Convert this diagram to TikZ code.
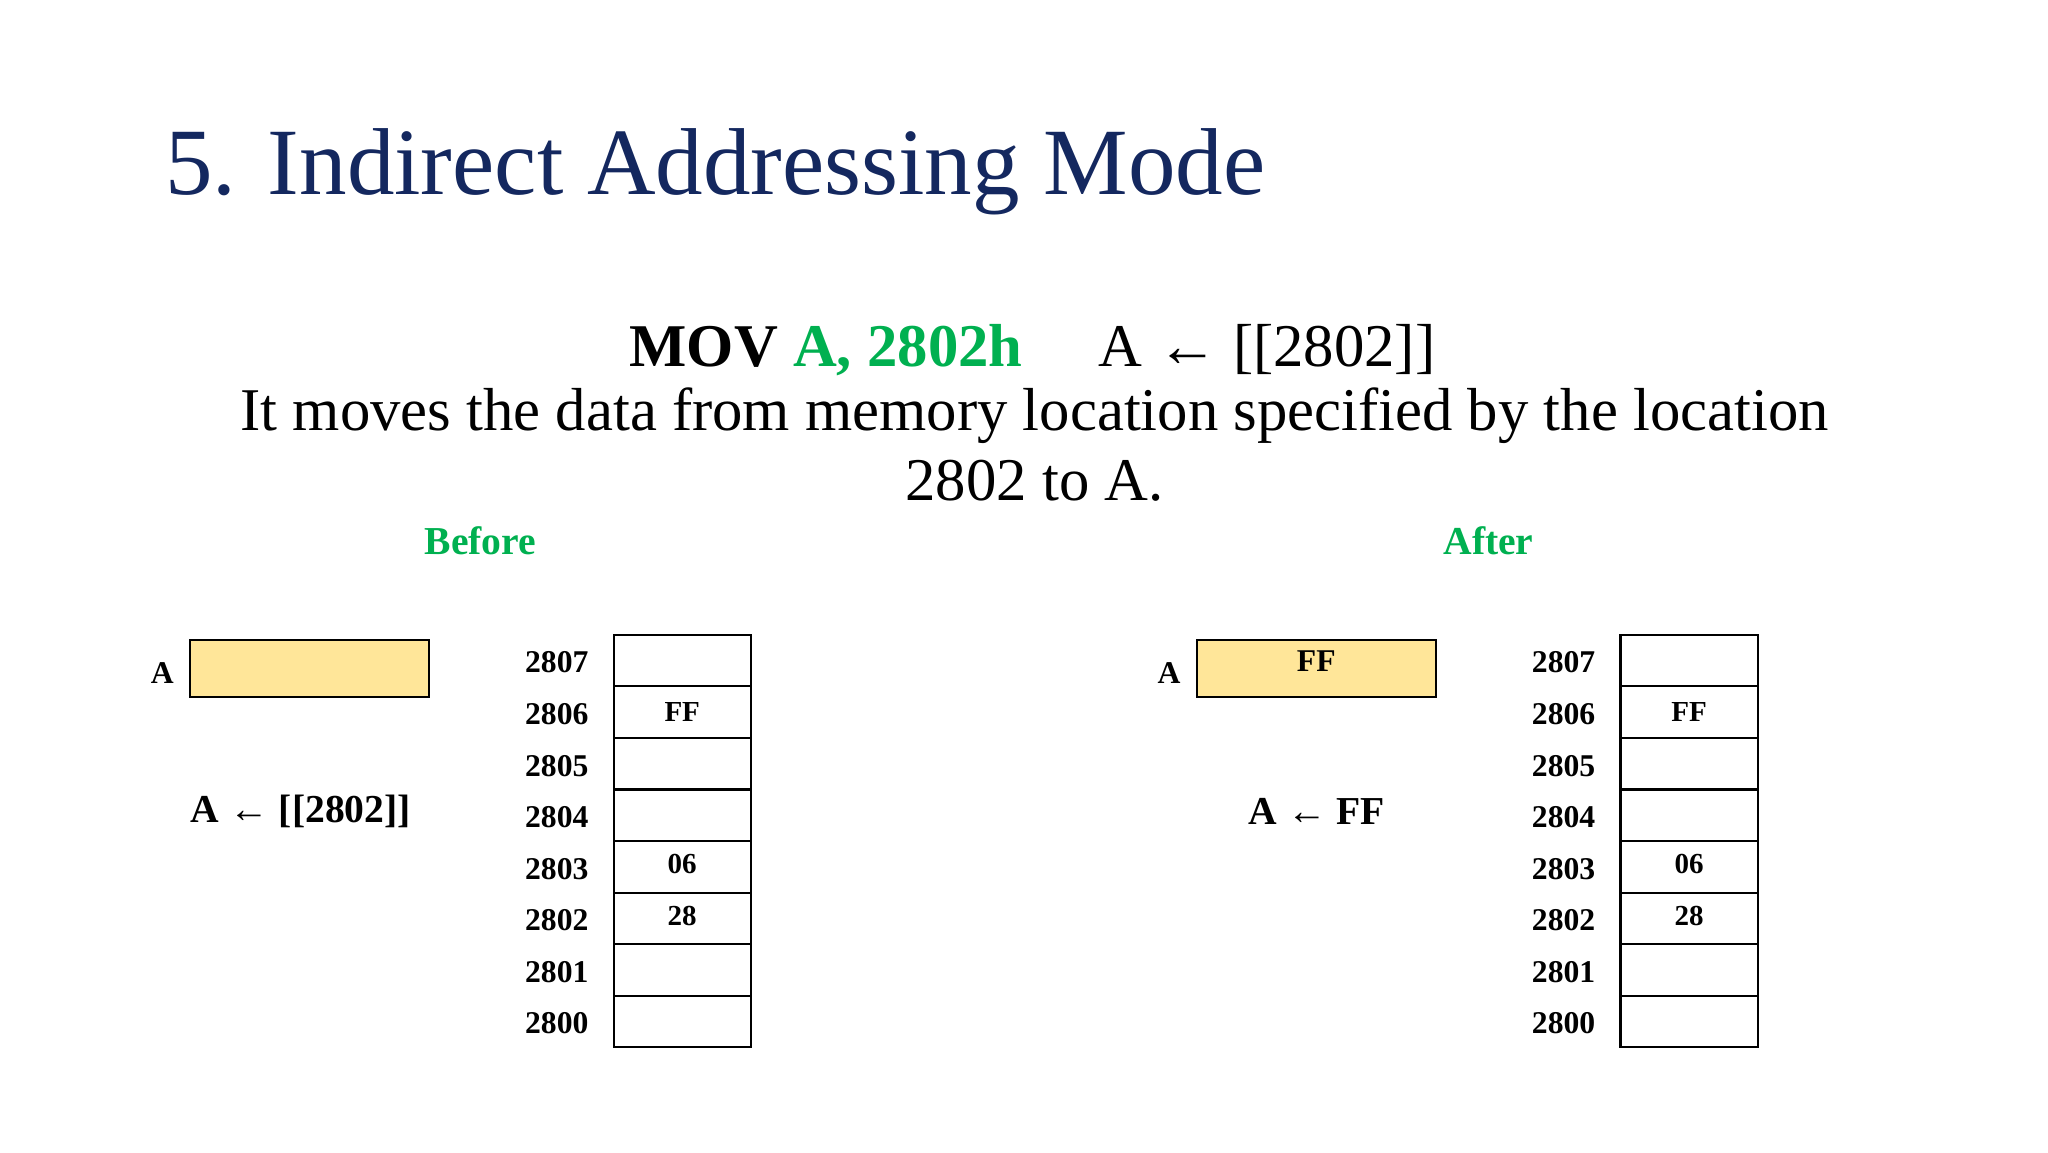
\documentclass[tikz,border=0pt]{standalone}
\usepackage{fontspec}
\setmainfont{Liberation Serif}
\definecolor{navy}{HTML}{14285F}
\definecolor{grn}{HTML}{00B050}
\definecolor{yel}{HTML}{FFE699}
\begin{document}
\begin{tikzpicture}[x=0.5pt,y=-0.5pt,
  cell/.style={draw,thick,minimum width=52pt,minimum height=19.55pt,inner sep=0,font=\bfseries\fontsize{11}{11}\selectfont},
  addr/.style={anchor=east,font=\bfseries\fontsize{12}{12}\selectfont},
  reg/.style={draw,thick,fill=yel,minimum width=90.5pt,minimum height=21.5pt,inner sep=0,font=\bfseries\fontsize{12}{12}\selectfont},
  hdr/.style={text=grn,font=\bfseries\fontsize{15}{15}\selectfont}]
\useasboundingbox (0,0) rectangle (1552,873);
\node[anchor=west,text=navy,font=\fontsize{36}{36}\selectfont] (title) at (118,130) {5. Indirect Addressing Mode};
\node (mov) at (626,265) {\fontsize{23}{23}\selectfont\textbf{MOV \textcolor{grn}{A, 2802h}}};
\node (eq) at (960,265) {\fontsize{23}{23}\selectfont A ← [[2802]]};
\node (l1) at (784,315) {\fontsize{23}{23}\selectfont It moves the data from memory location specified by the location};
\node (l2) at (784,364) {\fontsize{23}{23}\selectfont 2802 to A.};
\node[hdr] (before) at (364,410) {Before};
\node[hdr] (after) at (1128,410) {After};
\foreach \side/\ox/\cx in {L/0/517, R/763/1280}{
  \foreach \a [count=\i from 0] in {2807,2806,2805,2804,2803,2802,2801,2800}{
    \node[cell] (\side c\a) at (\cx,{500.5+\i*39.1}) {};
    \node[addr] (\side a\a) at ({453+\ox},{502+\i*39.1}) {\a};
  }
  \node[anchor=north,font=\bfseries\fontsize{11}{11}\selectfont] (\side v6) at (\side c2806.north) [yshift=-3pt] {FF};
  \node[anchor=north,font=\bfseries\fontsize{11}{11}\selectfont] (\side v3) at (\side c2803.north) [yshift=-2pt] {06};
  \node[anchor=north,font=\bfseries\fontsize{11}{11}\selectfont] (\side v2) at (\side c2802.north) [yshift=-2pt] {28};
  \node[font=\bfseries\fontsize{12}{12}\selectfont] (\side A) at ({123+\ox},510) {A};
}
\node[reg] (LR) at (234.5,506.5) {};
\node[reg,anchor=center] (RR) at (997.5,506.5) {};
\node[anchor=north,font=\bfseries\fontsize{12}{12}\selectfont] (RRv) at (RR.north) [yshift=-1pt] {FF};
\node[font=\bfseries\fontsize{15}{15}\selectfont] (Lop) at (228,615) {A ← [[2802]]};
\node[font=\bfseries\fontsize{15}{15}\selectfont] (Rop) at (998,615) {A ← FF};
\end{tikzpicture}
\end{document}
